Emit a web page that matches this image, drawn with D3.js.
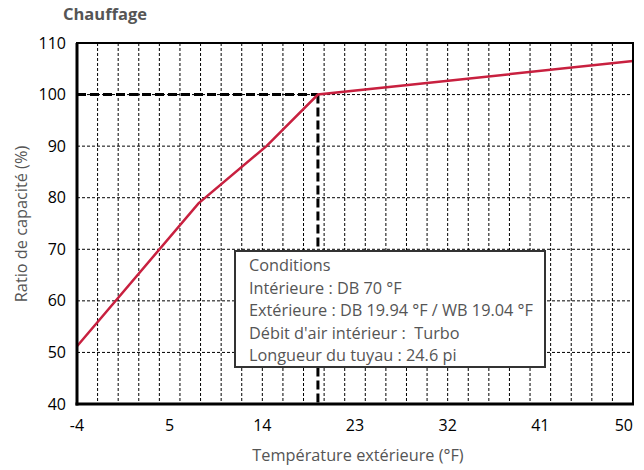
<!DOCTYPE html>
<html><head><meta charset="utf-8">
<script src="https://cdn.jsdelivr.net/npm/d3@7"></script>
<style>body{margin:0;background:#fff}svg{display:block}text{font-family:"Open Sans",sans-serif;white-space:pre}</style>
</head><body><svg id="c" width="644" height="470"></svg>
<script>
const temps = [-4, 7.8, 14.4, 19.4, 50];
const ratios = [51.2, 78.9, 90, 100, 106.5];
const xTicks = [-4, 5, 14, 23, 32, 41, 50];
const yTicks = [40, 50, 60, 70, 80, 90, 100, 110];
const ratedTemp = 19.4, ratedRatio = 100;
const legendLines = ["Conditions", "Intérieure : DB 70 °F", "Extérieure : DB 19.94 °F / WB 19.04 °F", "Débit d'air intérieur :  Turbo", "Longueur du tuyau : 24.6 pi"];

const svg = d3.select("#c");
const m = {l:77, t:43, r:633, b:404};
const x = d3.scaleLinear().domain([-4, 50]).range([m.l, m.r]);
const y = d3.scaleLinear().domain([40, 110]).range([m.b, m.t]);

// grid
const vg = d3.range(-2, 50, 2);
svg.append("g").selectAll("line").data(vg).join("line")
  .attr("x1", d=>x(d)).attr("x2", d=>x(d)).attr("y1", m.t).attr("y2", m.b)
  .attr("stroke", "#000").attr("stroke-width", 1).attr("stroke-dasharray", "3,2");
const hg = [50,60,70,80,90,100];
svg.append("g").selectAll("line").data(hg).join("line")
  .attr("x1", m.l).attr("x2", m.r).attr("y1", d=>y(d)).attr("y2", d=>y(d))
  .attr("stroke", "#000").attr("stroke-width", 1).attr("stroke-dasharray", "3,2");

// rated lines
svg.append("line").attr("x1", m.l).attr("x2", x(ratedTemp)).attr("y1", y(ratedRatio)).attr("y2", y(ratedRatio))
  .attr("stroke", "#000").attr("stroke-width", 3).attr("stroke-dasharray", "9,4");
svg.append("line").attr("x1", x(ratedTemp)).attr("x2", x(ratedTemp)).attr("y1", y(ratedRatio)).attr("y2", m.b)
  .attr("stroke", "#000").attr("stroke-width", 3).attr("stroke-dasharray", "9,4");

// curve
svg.append("path").datum(temps.map((t,i)=>[t, ratios[i]]))
  .attr("d", d3.line().x(d=>x(d[0])).y(d=>y(d[1])))
  .attr("fill", "none").attr("stroke", "#c8203f").attr("stroke-width", 2.5);

// legend
const lg = svg.append("g");
lg.append("rect").attr("x", 235).attr("y", 251).attr("width", 310).attr("height", 116)
  .attr("fill", "#fff").attr("stroke", "#333").attr("stroke-width", 2);
lg.selectAll("text").data(legendLines).join("text")
  .attr("x", 249).attr("y", (d,i)=>271 + i*22.5)
  .attr("fill", "#555").attr("font-size", 16.3).text(d=>d);

// frame
svg.append("rect").attr("x", m.l).attr("y", m.t).attr("width", m.r-m.l).attr("height", m.b-m.t)
  .attr("fill", "none").attr("stroke", "#000").attr("stroke-width", 2);
svg.append("line").attr("x1", m.l).attr("x2", m.l).attr("y1", m.t).attr("y2", m.b+1.5).attr("stroke","#000").attr("stroke-width",3);
svg.append("line").attr("x1", m.l-1.5).attr("x2", m.r+1).attr("y1", m.b).attr("y2", m.b).attr("stroke","#000").attr("stroke-width",3);

// tick labels
svg.append("g").selectAll("text").data(xTicks).join("text")
  .attr("x", d=>x(d)).attr("y", 431)
  .attr("text-anchor", (d,i)=> i===xTicks.length-1 ? "end" : "middle")
  .attr("font-size", 16).attr("fill", "#000").text(d=>d);
svg.append("g").selectAll("text").data(yTicks).join("text")
  .attr("x", 66).attr("y", d=>y(d)).attr("dy", "0.35em")
  .attr("text-anchor", "end").attr("font-size", 16).attr("fill", "#000").text(d=>d);

// titles
svg.append("text").attr("x", 63).attr("y", 20).attr("font-size", 16.5).attr("font-weight", "bold")
  .attr("fill", "#555").text("Chauffage");
svg.append("text").attr("x", 358).attr("y", 461).attr("text-anchor", "middle").attr("font-size", 16.3)
  .attr("fill", "#555").text("Température extérieure (°F)");
svg.append("text").attr("transform", "translate(27,224) rotate(-90)").attr("text-anchor", "middle")
  .attr("font-size", 16.3).attr("fill", "#555").text("Ratio de capacité (%)");
</script></body></html>
